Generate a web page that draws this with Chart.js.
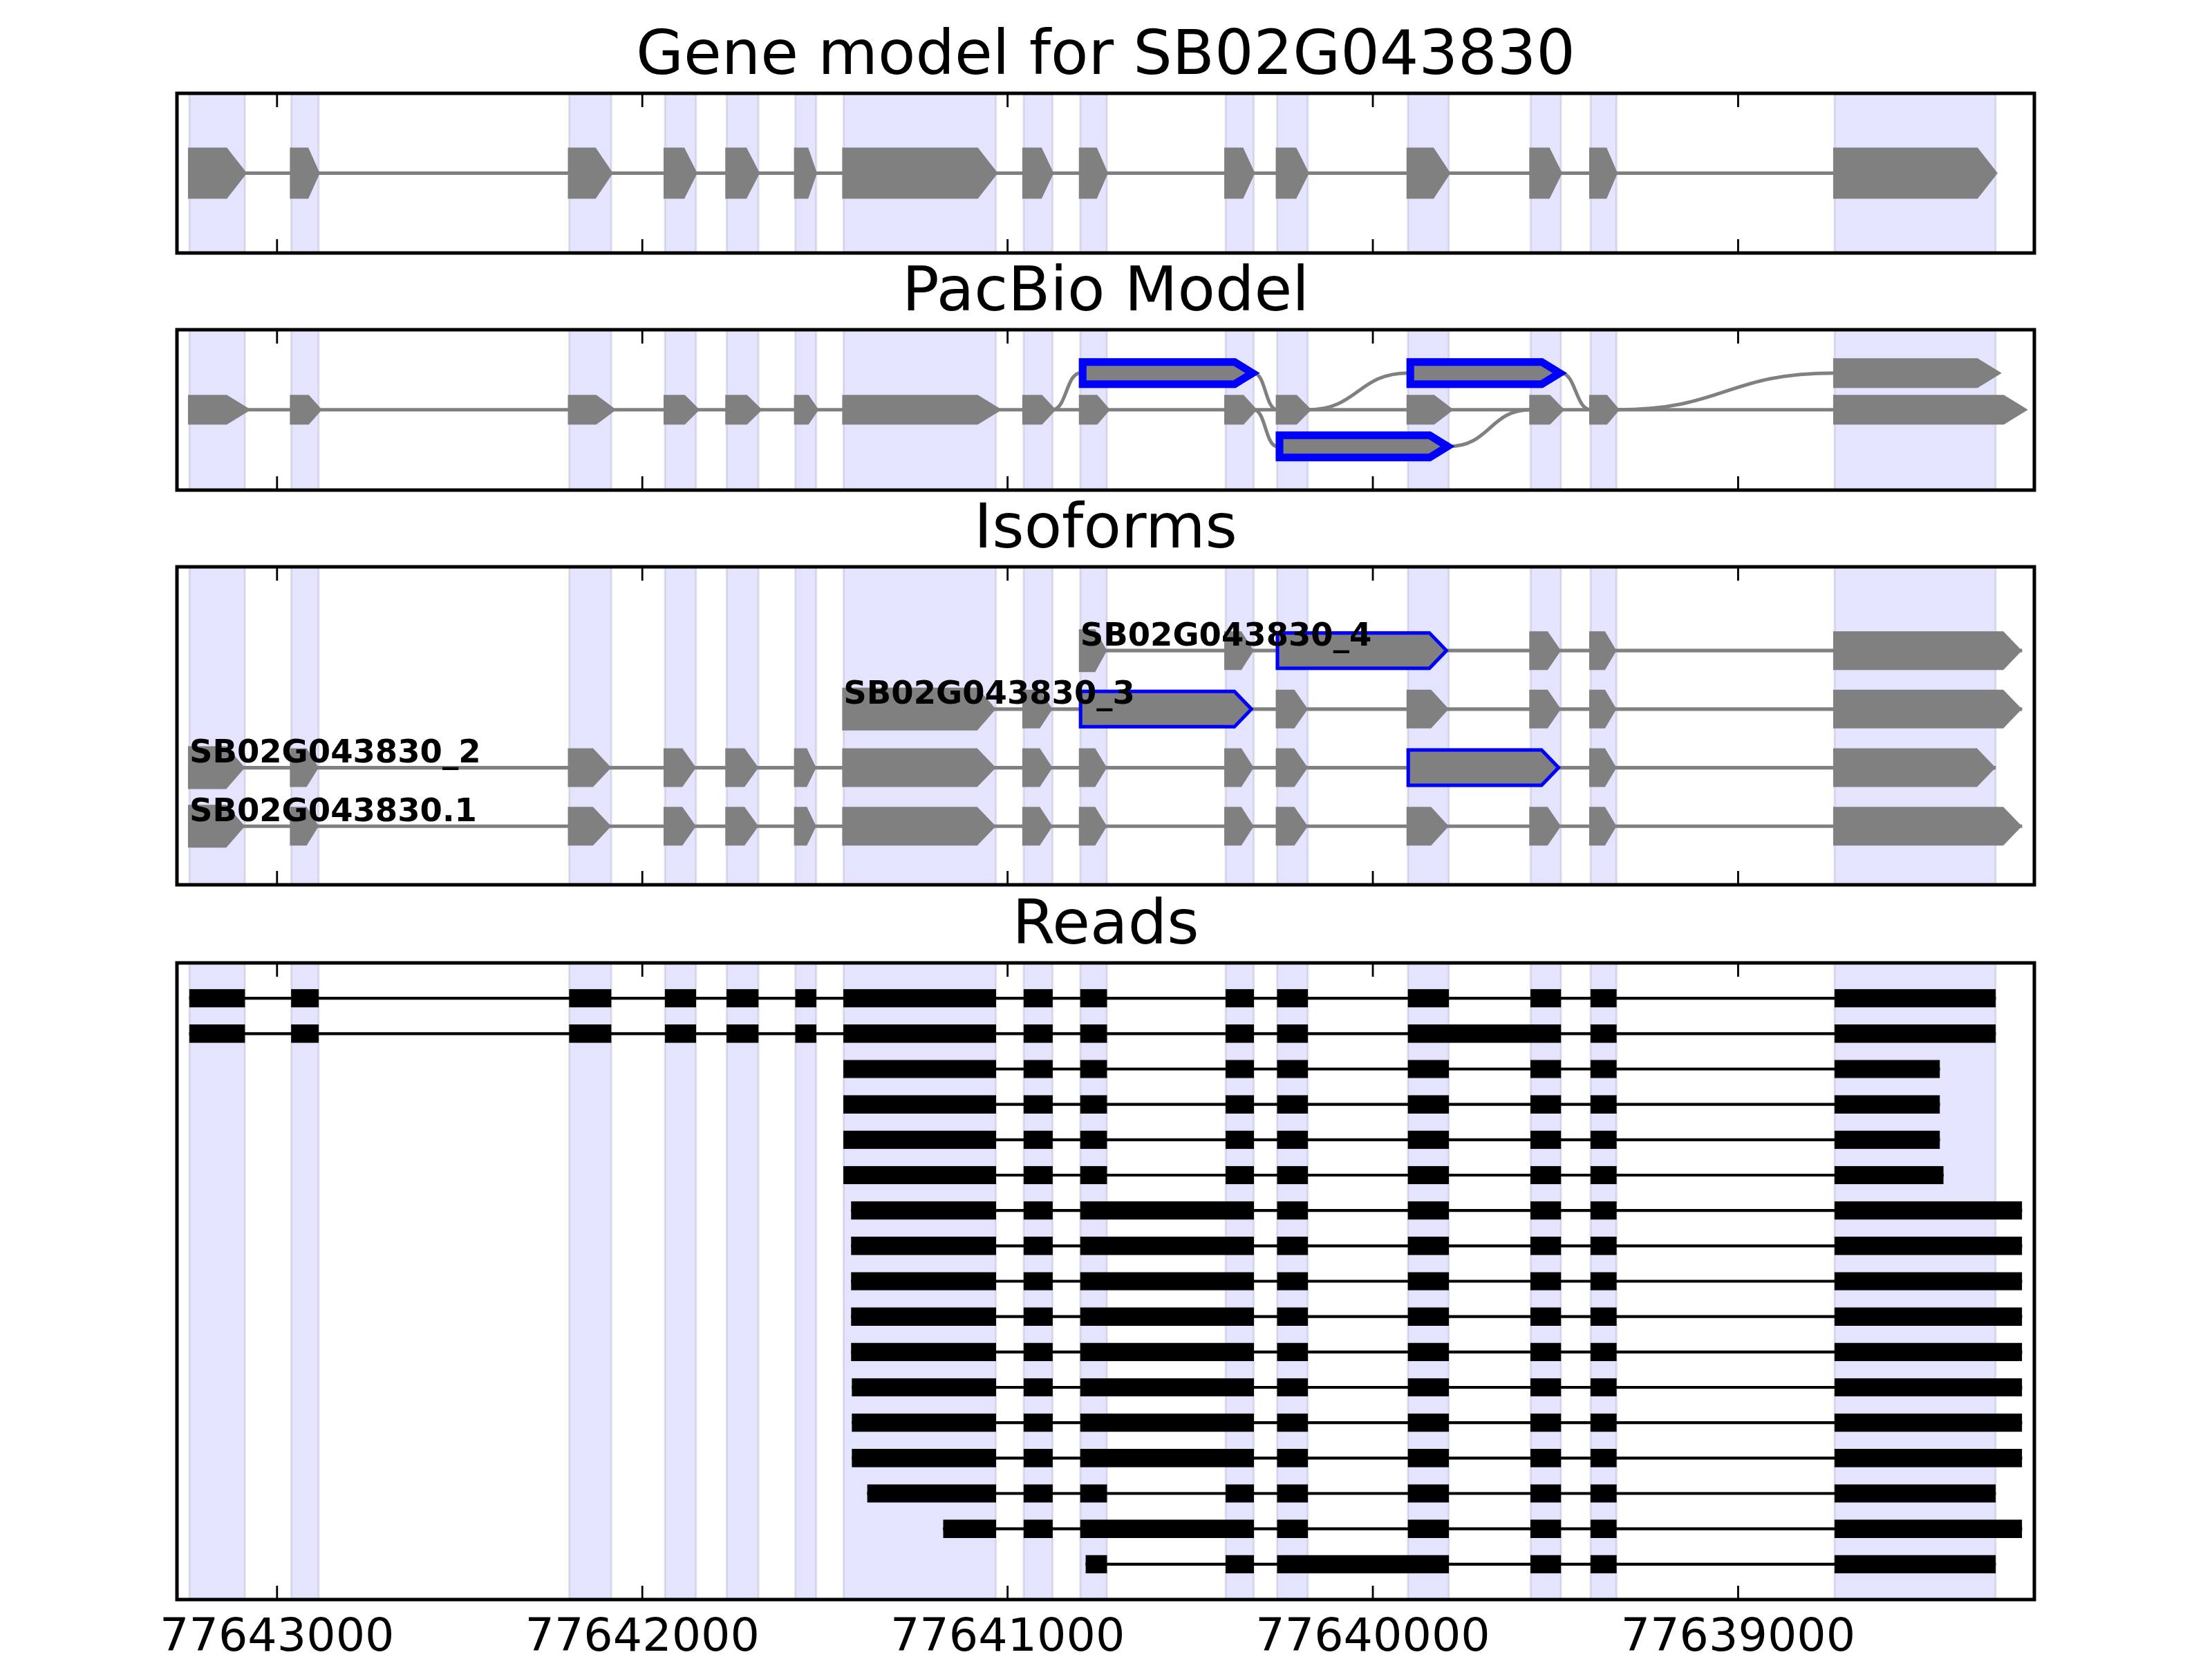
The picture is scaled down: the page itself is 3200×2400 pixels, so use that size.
<!DOCTYPE html>
<html><head><meta charset="utf-8">
<script src="https://cdn.jsdelivr.net/npm/chart.js@4.4.1/dist/chart.umd.min.js"></script>
<style>
html,body{margin:0;padding:0;background:#fff;}
#wrap{position:relative;width:3200px;height:2400px;background:#fff;}
canvas{position:absolute;left:0;top:0;}
</style></head><body>
<div id="wrap">
<canvas id="c1" width="3200" height="2400"></canvas>
<canvas id="c2" width="3200" height="2400"></canvas>
<canvas id="c3" width="3200" height="2400"></canvas>
<canvas id="c4" width="3200" height="2400"></canvas>
</div>
<script>
// ---------- data ----------
const xLeft = 77643274, xRight = 77638189;
const tickValues = [77643000, 77642000, 77641000, 77640000, 77639000];
const panelTitles = ['Gene model for SB02G043830', 'PacBio Model', 'Isoforms', 'Reads'];

// gene model exons (1..15), genomic coordinates on the minus strand
const exonStart = [77643240, 77642961, 77642200, 77641938, 77641769, 77641581, 77641449, 77640956, 77640801, 77640403, 77640262, 77639904, 77639568, 77639404, 77638736];
const exonEnd   = [77643088, 77642886, 77642085, 77641853, 77641682, 77641524, 77641032, 77640877, 77640728, 77640326, 77640178, 77639792, 77639485, 77639333, 77638295];
const longLastEnd = 77638223;

const geneBlocks = [1,2,3,4,5,6,7,8,9,10,11,12,13,14,15];

// PacBio model: rows 1 (upper), 0 (main), -1 (lower); [a,b] = retained intron block
const pacbioMain = [1,2,3,4,5,6,7,8,9,10,11,12,13,14,15];
const pacbioMainEnd = longLastEnd;
const pacbioUpper = [[9,10],[12,13],15];
const pacbioLower = [[11,12]];
// [fromRow, fromExonEnd, toRow, toExonStart]
const pacbioLinks = [[0,8,1,9],[1,10,0,11],[0,10,-1,11],[0,11,1,12],[-1,12,0,13],[1,13,0,14],[0,14,1,15]];

// Isoforms (row 0 at bottom)
const isoformNames = ['SB02G043830.1', 'SB02G043830_2', 'SB02G043830_3', 'SB02G043830_4'];
const isoformBlocks = [
  [1,2,3,4,5,6,7,8,9,10,11,12,13,14,15],
  [1,2,3,4,5,6,7,8,9,10,11,[12,13],14,15],
  [7,8,[9,10],11,12,13,14,15],
  [9,10,[11,12],13,14,15]
];
const isoformEnd = [77638223, 77638295, 77638223, 77638223];

// Reads (row 0 at top)
const readStart = [77643240, 77643240, 77641449, 77641449, 77641449, 77641449, 77641428, 77641428, 77641428, 77641428, 77641428, 77641426, 77641426, 77641426, 77641384, 77641176, 77640786];
const readEnd   = [77638295, 77638295, 77638448, 77638448, 77638448, 77638438, 77638223, 77638223, 77638223, 77638223, 77638223, 77638223, 77638223, 77638223, 77638295, 77638223, 77638295];
const readBlocks = [
  [1,2,3,4,5,6,7,8,9,10,11,12,13,14,15],
  [1,2,3,4,5,6,7,8,9,10,11,[12,13],14,15],
  [7,8,9,10,11,12,13,14,15],
  [7,8,9,10,11,12,13,14,15],
  [7,8,9,10,11,12,13,14,15],
  [7,8,9,10,11,12,13,14,15],
  [7,8,[9,10],11,12,13,14,15],
  [7,8,[9,10],11,12,13,14,15],
  [7,8,[9,10],11,12,13,14,15],
  [7,8,[9,10],11,12,13,14,15],
  [7,8,[9,10],11,12,13,14,15],
  [7,8,[9,10],11,12,13,14,15],
  [7,8,[9,10],11,12,13,14,15],
  [7,8,[9,10],11,12,13,14,15],
  [7,8,9,10,11,12,13,14,15],
  [7,8,[9,10],11,12,13,14,15],
  [9,10,[11,12],13,14,15]
];

// ---------- helpers ----------
const GRAY = '#808080', BLUE = '#0000ff';
Chart.defaults.font.family = 'DejaVu Sans';
const TITLE_BOX = 4 + 89 * 1.15;

function makeBlocks(blocks, row, start, end) {
  return blocks.map((b, i) => {
    const [a, z] = Array.isArray(b) ? b : [b, b];
    const s = (i === 0 && start != null) ? start : exonStart[a - 1];
    const e = (i === blocks.length - 1 && end != null) ? end : exonEnd[z - 1];
    return {x: [s, e], y: row, hl: Array.isArray(b), first: i === 0};
  });
}
function spanOf(blk) {
  return {x: [blk[0].x[0], blk[blk.length - 1].x[1]], y: blk[0].y};
}

const genePanel = {
  id: 'genePanel',
  beforeDatasetsDraw(chart) {
    const {ctx, chartArea: ca, scales: {x}} = chart;
    ctx.save();
    ctx.beginPath(); ctx.rect(ca.left, ca.top, ca.right - ca.left, ca.bottom - ca.top); ctx.clip();
    exonStart.forEach((s, i) => {
      const a = x.getPixelForValue(s), b = x.getPixelForValue(exonEnd[i]);
      const l = Math.min(a, b), w = Math.abs(b - a);
      ctx.fillStyle = 'rgba(0,0,255,0.105)';
      ctx.fillRect(l, ca.top, w, ca.bottom - ca.top);
      ctx.strokeStyle = 'rgba(90,90,130,0.16)';
      ctx.lineWidth = 3;
      ctx.beginPath();
      ctx.moveTo(l, ca.top); ctx.lineTo(l, ca.bottom);
      ctx.moveTo(l + w, ca.top); ctx.lineTo(l + w, ca.bottom);
      ctx.stroke();
    });
    ctx.restore();
  },
  afterDatasetsDraw(chart, args, o) {
    const {ctx, scales: {x, y}} = chart;
    ctx.save();
    if (o.links) {
      ctx.strokeStyle = GRAY; ctx.lineWidth = o.linkWidth; ctx.lineCap = 'butt';
      o.links.forEach(([r0, e0, r1, s1]) => {
        const x0 = x.getPixelForValue(exonEnd[e0 - 1]), y0 = y.getPixelForValue(r0);
        const x1 = x.getPixelForValue(exonStart[s1 - 1]), y1 = y.getPixelForValue(r1);
        const mx = (x0 + x1) / 2;
        ctx.beginPath(); ctx.moveTo(x0, y0); ctx.bezierCurveTo(mx, y0, mx, y1, x1, y1); ctx.stroke();
      });
    }
    chart.data.datasets.forEach((ds, di) => {
      if (!ds.arrow) return;
      const meta = chart.getDatasetMeta(di);
      meta.data.forEach((el, i) => {
        const d = ds.data[i];
        const l = Math.min(el.x, el.base) - o.padL;
        let r = Math.max(el.x, el.base);
        const h = el.height + (d.first ? o.firstExtra : 0);
        const head = Math.min(o.headMax, o.headFrac * (r - l));
        r += o.tipExt * head;
        const cy = el.y;
        ctx.beginPath();
        ctx.moveTo(l, cy - h / 2);
        ctx.lineTo(r - head, cy - h / 2);
        ctx.lineTo(r, cy);
        ctx.lineTo(r - head, cy + h / 2);
        ctx.lineTo(l, cy + h / 2);
        ctx.closePath();
        ctx.fillStyle = GRAY;
        ctx.fill();
        if (d.hl) {
          ctx.save();
          ctx.clip();
          ctx.strokeStyle = BLUE; ctx.lineWidth = 2 * o.hlWidth; ctx.lineJoin = 'miter';
          ctx.stroke();
          ctx.restore();
        }
      });
    });
    if (o.labels) {
      ctx.fillStyle = '#000';
      ctx.font = 'bold 46.5px "DejaVu Sans"';
      ctx.textAlign = 'left'; ctx.textBaseline = 'alphabetic';
      o.labels.forEach(lb => {
        ctx.fillText(lb.text, x.getPixelForValue(lb.value), y.getPixelForValue(lb.row) - 7.5);
      });
    }
    ctx.restore();
  },
  afterDraw(chart) {
    const {ctx, chartArea: ca, scales: {x}} = chart;
    ctx.save();
    ctx.strokeStyle = '#000';
    ctx.lineWidth = 2.8;
    tickValues.forEach(v => {
      const px = x.getPixelForValue(v);
      ctx.beginPath();
      ctx.moveTo(px, ca.top); ctx.lineTo(px, ca.top + 20);
      ctx.moveTo(px, ca.bottom); ctx.lineTo(px, ca.bottom - 20);
      ctx.stroke();
    });
    ctx.lineWidth = 5;
    ctx.strokeRect(ca.left, ca.top, ca.right - ca.left, ca.bottom - ca.top);
    ctx.restore();
  }
};

function makeChart(id, title, pad, yScale, datasets, decor, bottomAxis) {
  return new Chart(document.getElementById(id), {
    type: 'bar',
    data: {datasets},
    plugins: [genePanel],
    options: {
      indexAxis: 'y',
      responsive: false,
      devicePixelRatio: 1,
      animation: false,
      layout: {padding: pad},
      plugins: {
        legend: {display: false},
        tooltip: {enabled: false},
        title: {display: true, text: title, color: '#000', font: {family: 'DejaVu Sans', size: 89, weight: 'normal', lineHeight: 1.15}, padding: {top: 4, bottom: 0}},
        genePanel: decor
      },
      scales: {
        x: {
          type: 'linear', reverse: true, min: xRight, max: xLeft,
          grid: {display: false, drawTicks: false}, border: {display: false},
          afterBuildTicks: s => { s.ticks = tickValues.map(v => ({value: v})); },
          afterFit: s => { s.height = bottomAxis ? 86 : 0; },
          ticks: {display: !!bottomAxis, autoSkip: false, maxRotation: 0, padding: 17, color: '#000',
                  font: {family: 'DejaVu Sans', size: 66.7}, callback: v => String(v)}
        },
        y: Object.assign({type: 'linear', display: false, offset: false, grid: {offset: false}}, yScale)
      }
    }
  });
}

const arrowBase = {arrow: true, grouped: false, backgroundColor: 'rgba(0,0,0,0)', borderWidth: 0};
const lineBase = {grouped: false, backgroundColor: GRAY, borderWidth: 0, barThickness: 4.5};

// Panel 1: gene model
const p1Blocks = makeBlocks(geneBlocks, 0);
makeChart('c1', panelTitles[0], {left: 256, right: 257, top: 135 - TITLE_BOX, bottom: 2034}, {min: -1, max: 1}, [
  Object.assign({label: 'exons', data: p1Blocks, barThickness: 74}, arrowBase),
  Object.assign({label: 'introns', data: [spanOf(p1Blocks)]}, lineBase)
], {padL: 2, headMax: 29, headFrac: 0.4, tipExt: 0.1, firstExtra: 0, hlWidth: 0});

// Panel 2: PacBio model
const p2Main = makeBlocks(pacbioMain, 0, null, pacbioMainEnd);
const p2Upper = makeBlocks(pacbioUpper, 1);
const p2Lower = makeBlocks(pacbioLower, -1);
makeChart('c2', panelTitles[1], {left: 256, right: 257, top: 477 - TITLE_BOX, bottom: 1691}, {min: -2.19, max: 2.18}, [
  Object.assign({label: 'exons', data: p2Main.concat(p2Upper, p2Lower).map(d => Object.assign(d, {first: false})), barThickness: 43}, arrowBase),
  Object.assign({label: 'introns', data: [spanOf(p2Main)]}, lineBase)
], {padL: 2, headMax: 35, headFrac: 0.46, tipExt: 0.25, firstExtra: 0, hlWidth: 11, links: pacbioLinks, linkWidth: 5});

// Panel 3: isoforms
const p3Rows = isoformBlocks.map((b, r) => makeBlocks(b, r, null, isoformEnd[r]));
makeChart('c3', panelTitles[2], {left: 256, right: 257, top: 820 - TITLE_BOX, bottom: 1120}, {min: -1, max: 4.43}, [
  Object.assign({label: 'exons', data: [].concat(...p3Rows), barThickness: 56}, arrowBase),
  Object.assign({label: 'introns', data: p3Rows.map(spanOf)}, lineBase)
], {padL: 2, headMax: 27, headFrac: 0.42, tipExt: 0, firstExtra: 6, hlWidth: 5,
    labels: isoformNames.map((n, r) => ({text: n, value: p3Rows[r][0].x[0], row: r}))});

// Panel 4: reads
const p4Rows = readBlocks.map((b, r) => makeBlocks(b, r, readStart[r], readEnd[r]));
makeChart('c4', panelTitles[3], {left: 256, right: 257, top: 1393 - TITLE_BOX, bottom: 0}, {min: -1, max: 17, reverse: true}, [
  {label: 'read blocks', data: [].concat(...p4Rows), grouped: false, backgroundColor: '#000', borderColor: '#000', borderWidth: 1, borderSkipped: false, barThickness: 26},
  {label: 'read spans', data: p4Rows.map(spanOf), grouped: false, backgroundColor: '#000', borderWidth: 0, barThickness: 3.5}
], {padL: 0, headMax: 0, headFrac: 0, tipExt: 0, firstExtra: 0, hlWidth: 0}, true);
</script>
</body></html>
